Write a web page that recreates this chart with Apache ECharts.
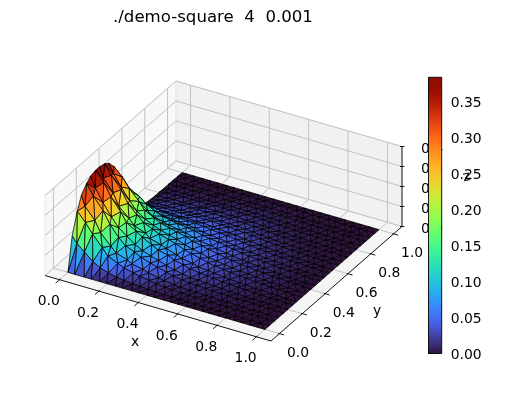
<!DOCTYPE html>
<html><head><meta charset="utf-8"><style>html,body{margin:0;padding:0;background:#fff}#c{width:514px;height:395px}</style>
<script src="https://cdn.jsdelivr.net/npm/echarts@6/dist/echarts.min.js"></script></head><body><div id="c"></div>
<script>
const titleText = './demo-square  4  0.001';
const xTicks = [0, 0.2, 0.4, 0.6, 0.8, 1.0];
const yTicks = [0, 0.2, 0.4, 0.6, 0.8, 1.0];
const zTicks = [0, 0.1, 0.2, 0.3, 0.4];
const barTicks = [0, 0.05, 0.1, 0.15, 0.2, 0.25, 0.3, 0.35];
const barMax = 0.3836;
const xNodesA = [0,.034,.083,.118,.162,.197,.243,.276,.324,.358,.405,.437,.484,.522,.558,.603,.637,.684,.716,.763,.797,.844,.878,.922,.956,1];
const xNodesB = [0,.024,.062,.105,.142,.184,.226,.264,.306,.346,.385,.426,.468,.508,.547,.588,.628,.667,.708,.748,.789,.829,.87,.91,.955,1];
const xNodesC = [0,.041,.077,.126,.155,.205,.236,.284,.317,.366,.398,.445,.477,.529,.566,.596,.645,.677,.724,.756,.805,.836,.886,.915,.963,1];
const xNodesD = [0,.018,.068,.097,.149,.176,.233,.255,.313,.339,.392,.418,.475,.5,.553,.581,.635,.66,.714,.741,.796,.822,.877,.903,.948,1];
const yNodes = [0,.037,.082,.118,.163,.198,.243,.277,.322,.358,.403,.438,.483,.518,.562,.597,.642,.678,.722,.758,.803,.838,.882,.918,.963,1];
const zRows = [
[0,0,0,0,0,0,0,0,0,0,0,0,0,0,0,0,0,0,0,0,0,0,0,0,0,0],
[.164,.134,.102,.066,.045,.032,.022,.016,.012,.010,.007,.006,.004,.003,.002,.002,.001,.001,.001,.001,.001,0,0,0,0,0],
[.265,.221,.174,.120,.085,.063,.048,.038,.029,.023,.016,.012,.009,.006,.005,.004,.003,.003,.002,.002,.001,.001,.001,0,0,0],
[.328,.277,.221,.168,.115,.088,.070,.056,.045,.036,.025,.019,.014,.009,.009,.007,.006,.005,.004,.003,.002,.002,.001,.001,.001,0],
[.363,.310,.251,.193,.140,.108,.090,.072,.058,.047,.035,.026,.020,.014,.013,.011,.008,.007,.006,.004,.003,.003,.002,.001,.001,0],
[.382,.330,.269,.209,.165,.135,.105,.085,.070,.059,.045,.035,.026,.019,.018,.015,.012,.010,.007,.006,.004,.003,.002,.002,.001,0],
[.390,.339,.278,.218,.173,.143,.123,.097,.081,.069,.054,.043,.034,.025,.024,.020,.015,.012,.010,.008,.006,.004,.003,.002,.001,0],
[.390,.340,.280,.220,.175,.145,.125,.104,.089,.077,.061,.050,.041,.031,.029,.023,.019,.015,.012,.010,.007,.006,.004,.003,.001,0],
[.382,.334,.276,.218,.174,.144,.125,.109,.096,.085,.068,.058,.048,.037,.031,.026,.021,.017,.014,.011,.008,.006,.004,.003,.001,0],
[.367,.321,.266,.210,.168,.140,.121,.107,.095,.085,.069,.059,.050,.040,.034,.028,.022,.018,.015,.011,.008,.007,.005,.003,.001,0],
[.328,.289,.241,.191,.154,.129,.113,.100,.091,.082,.068,.059,.051,.042,.034,.029,.023,.019,.015,.012,.009,.007,.005,.003,.001,0],
[.273,.243,.205,.165,.134,.113,.100,.091,.083,.077,.065,.056,.050,.042,.034,.029,.023,.019,.016,.012,.009,.007,.005,.003,.001,0],
[.203,.187,.162,.133,.111,.096,.088,.081,.075,.070,.059,.053,.048,.040,.034,.028,.022,.018,.015,.011,.008,.007,.005,.003,.001,0],
[.137,.132,.119,.101,.087,.077,.073,.068,.065,.062,.053,.048,.044,.038,.032,.026,.022,.017,.014,.011,.008,.007,.004,.003,.001,0],
[.078,.083,.080,.073,.065,.060,.059,.057,.055,.053,.047,.043,.040,.035,.030,.024,.020,.016,.013,.010,.008,.006,.004,.003,.001,0],
[.035,.046,.050,.049,.047,.046,.046,.046,.045,.045,.041,.037,.035,.032,.026,.022,.018,.014,.012,.009,.007,.005,.004,.002,.001,0],
[.016,.027,.033,.034,.034,.034,.035,.036,.036,.037,.033,.031,.030,.027,.023,.020,.015,.012,.010,.008,.006,.004,.003,.002,.001,0],
[.008,.017,.023,.024,.025,.025,.026,.028,.029,.029,.027,.026,.025,.023,.019,.016,.013,.010,.009,.007,.005,.004,.003,.002,.001,0],
[.004,.012,.017,.019,.020,.020,.021,.022,.023,.024,.022,.020,.021,.019,.016,.013,.011,.008,.007,.005,.004,.003,.002,.002,.001,0],
[.002,.008,.012,.013,.014,.014,.015,.016,.017,.018,.017,.016,.016,.015,.012,.011,.008,.007,.006,.005,.003,.002,.002,.001,.001,0],
[.002,.005,.008,.009,.009,.010,.010,.011,.013,.013,.013,.012,.013,.012,.010,.008,.006,.005,.004,.004,.002,.002,.002,.001,.001,0],
[.001,.004,.005,.006,.006,.006,.006,.007,.008,.009,.009,.009,.009,.009,.008,.007,.006,.005,.004,.003,.002,.002,.001,.001,0,0],
[.001,.002,.003,.003,.004,.004,.004,.004,.005,.006,.005,.006,.006,.006,.006,.005,.004,.003,.003,.002,.002,.001,.001,.001,0,0],
[.001,.001,.002,.002,.002,.002,.002,.003,.003,.003,.004,.003,.004,.004,.004,.003,.003,.002,.002,.001,.001,.001,.001,0,0,0],
[0,.001,.001,.001,.001,.001,.001,.001,.001,.002,.002,.002,.002,.002,.002,.002,.002,.001,.001,.001,.001,0,0,0,0,0],
[0,0,0,0,0,0,0,0,0,0,0,0,0,0,0,0,0,0,0,0,0,0,0,0,0,0]
];

// 3D view of the matplotlib box, expressed in the pixels of a hidden plane axis
const M = 0.0644, Z_TOP = 0.4;
const bc = v => M + v * (1 - 2 * M);
const boxToPlane = (bx, by, bz) => [45 + 226 * bx + 131 * by, 275.5 + 65.5 * bx - 114.5 * by - 80 * bz];
const project = (x, y, z) => boxToPlane(bc(x), bc(y), z / Z_TOP);
const depth = (x, y, z) => 0.433 * 1.19 * bc(x) - 0.75 * 1.19 * bc(y) + 0.5 * 0.893 * z / Z_TOP;

// turbo colormap: published anchors at the dark end, polynomial fit above it
const turboDark = [[0, 48, 18, 59], [0.03, 57, 42, 115], [0.0625, 65, 64, 165], [0.1, 72, 90, 215]];
function turbo(t) {
  t = Math.max(0, Math.min(1, t));
  if (t < 0.1) {
    let i = 0;
    while (t > turboDark[i + 1][0]) i++;
    const a = turboDark[i], b = turboDark[i + 1], f = (t - a[0]) / (b[0] - a[0]);
    return `rgb(${[1, 2, 3].map(n => Math.round(a[n] + (b[n] - a[n]) * f)).join(',')})`;
  }
  const p = c => c.reduceRight((a, k) => a * t + k, 0);
  const r = p([0.13572138, 4.6153926, -42.66032258, 132.13108234, -152.94239396, 59.28637943]);
  const g = p([0.09140261, 2.19418839, 4.84296658, -14.18503333, 4.27729857, 2.82956604]);
  const b = p([0.1066733, 12.64194608, -60.58204836, 110.36276771, -89.90310912, 27.34824973]);
  const h = v => Math.round(Math.max(0, Math.min(1, v)) * 255);
  return `rgb(${h(r)},${h(g)},${h(b)})`;
}

// triangles: zip neighbouring rows of nodes
const rowLists = [xNodesA, xNodesB, xNodesC, xNodesD];
const rowX = j => rowLists[j % 4];
const tris = [];
for (let j = 0; j + 1 < yNodes.length; j++) {
  const a = rowX(j), b = rowX(j + 1);
  let i = 0, k = 0;
  const P = (r, n, xs) => [xs[n], yNodes[r], zRows[r][n]];
  while (i < a.length - 1 || k < b.length - 1) {
    const advA = k >= b.length - 1 || (i < a.length - 1 && a[i + 1] <= b[k + 1]);
    if (advA) { tris.push([P(j, i, a), P(j, i + 1, a), P(j + 1, k, b)]); i++; }
    else { tris.push([P(j, i, a), P(j + 1, k + 1, b), P(j + 1, k, b)]); k++; }
  }
}
const triData = tris.map(t => {
  const avg = (t[0][2] + t[1][2] + t[2][2]) / 3;
  const d = (depth(...t[0]) + depth(...t[1]) + depth(...t[2])) / 3;
  return { d, value: [t[0][0], t[0][1], t[0][2], t[1][0], t[1][1], t[1][2], t[2][0], t[2][1], t[2][2], avg] };
}).sort((p, q) => p.d - q.d).map(o => o.value);

const GRID = '#c2c2c2';
const FS = '13.9px';
function line(api, a, b, color, w) {
  const p = api.coord(a), q = api.coord(b);
  return { type: 'line', shape: { x1: p[0], y1: p[1], x2: q[0], y2: q[1] }, style: { stroke: color, lineWidth: w, fill: null } };
}
function poly(api, pts, fill) {
  return { type: 'polygon', shape: { points: pts.map(p => api.coord(p)) }, style: { fill, stroke: '#e6e6e6', lineWidth: 0.8 } };
}
function text(s, p, api, o) {
  const c = api.coord(p);
  return { type: 'text', x: c[0], y: c[1], rotation: (o && o.rot) || 0, style: { text: s, fill: '#000', font: FS + ' "DejaVu Sans"', textAlign: (o && o.align) || 'center', textVerticalAlign: 'middle' } };
}
const add = (p, dx, dy) => [p[0] + dx, p[1] + dy];

function panes(params, api) {
  const ch = [];
  const B = boxToPlane;
  ch.push(poly(api, [B(0,0,0), B(0,1,0), B(0,1,1), B(0,0,1)], '#f8f8f8'));
  ch.push(poly(api, [B(0,1,0), B(1,1,0), B(1,1,1), B(0,1,1)], '#f1f1f1'));
  ch.push(poly(api, [B(0,0,0), B(1,0,0), B(1,1,0), B(0,1,0)], '#f5f5f5'));
  xTicks.forEach(v => { const t = bc(v);
    ch.push(line(api, B(t,0,0), B(t,1,0), GRID, 1));
    ch.push(line(api, B(t,1,0), B(t,1,1), GRID, 1)); });
  yTicks.forEach(v => { const t = bc(v);
    ch.push(line(api, B(1,t,0), B(0,t,0), GRID, 1));
    ch.push(line(api, B(0,t,0), B(0,t,1), GRID, 1)); });
  zTicks.forEach(v => { const t = v / Z_TOP;
    ch.push(line(api, B(0,0,t), B(0,1,t), GRID, 1));
    ch.push(line(api, B(0,1,t), B(1,1,t), GRID, 1)); });
  return { type: 'group', children: ch };
}
function triangle(params, api) {
  const pts = [0, 3, 6].map(o => api.coord(project(api.value(o), api.value(o + 1), api.value(o + 2))));
  return { type: 'polygon', shape: { points: pts }, style: { fill: turbo(api.value(9) / barMax), stroke: '#000', lineWidth: 0.75 } };
}
function axes(params, api) {
  const ch = [];
  const B = boxToPlane, K = '#000';
  ch.push(line(api, B(0,0,0), B(1,0,0), K, 0.9));
  ch.push(line(api, B(1,0,0), B(1,1,0), K, 0.9));
  ch.push(line(api, B(1,1,0), B(1,1,1), K, 0.9));
  xTicks.forEach(v => { const p = B(bc(v),0,0);
    ch.push(line(api, add(p,1,-0.9), add(p,-3.9,3.4), K, 0.9));
    ch.push(text(v.toFixed(1), add(p,-10.8,22), api)); });
  yTicks.forEach(v => { const p = B(1,bc(v),0);
    ch.push(line(api, add(p,-1.2,-0.4), add(p,4.6,1.3), K, 0.9));
    ch.push(text(v.toFixed(1), add(p,18.6,19.6), api)); });
  zTicks.forEach(v => { const p = B(1,1,v / Z_TOP);
    ch.push(line(api, add(p,-2,0), add(p,2.4,0), K, 0.9));
    ch.push(text(v.toFixed(1), add(p,19,2.5), api, { align: 'left' })); });
  ch.push(text('x', add(B(0.5,0,0),-23,34.5), api));
  ch.push(text('y', add(B(1,0.5,0),40.5,28), api));
  return { type: 'group', children: ch };
}
function colorBar(params, api) {
  const p = api.coord([0, barMax]), q = api.coord([1, 0]);
  const shape = { x: p[0], y: p[1], width: q[0] - p[0], height: q[1] - p[1] };
  const stops = [];
  for (let i = 0; i <= 64; i++) stops.push({ offset: i / 64, color: turbo(1 - i / 64) });
  return { type: 'group', children: [
    { type: 'rect', shape, style: { fill: new echarts.graphic.LinearGradient(0, 0, 0, 1, stops) } },
    { type: 'rect', shape, style: { fill: null, stroke: '#000', lineWidth: 0.9 } }
  ] };
}
function zLabel(params, api) {
  return { type: 'group', children: [text('z', add(boxToPlane(1, 1, 0.5), 64.5, -9.5), api, { rot: 0.2 })] };
}

const chart = echarts.init(document.getElementById('c'), null, { renderer: 'canvas' });
const hidden = { show: false };
chart.setOption({
  animation: false,
  backgroundColor: '#fff',
  title: { text: titleText, left: 113, top: 9, padding: 0, textStyle: { fontFamily: 'DejaVu Sans', fontSize: 16.6, fontWeight: 'normal', color: '#000' } },
  grid: [
    { left: 0, top: 0, width: 514, height: 395, containLabel: false },
    { left: 428.5, top: 77.3, width: 13.2, height: 276.2 }
  ],
  xAxis: [
    { type: 'value', min: 0, max: 514, ...hidden, gridIndex: 0 },
    { type: 'value', min: 0, max: 1, ...hidden, gridIndex: 1 }
  ],
  yAxis: [
    { type: 'value', min: 0, max: 395, inverse: true, ...hidden, gridIndex: 0 },
    { type: 'value', min: 0, max: barMax, gridIndex: 1, position: 'right', splitLine: { show: false },
      axisLine: { show: false },
      axisTick: { show: true, length: 3.5, customValues: barTicks, lineStyle: { color: '#000', width: 0.9 } },
      axisLabel: { show: true, customValues: barTicks, margin: 9, formatter: v => `{t|${v.toFixed(2)}}`,
        rich: { t: { padding: [4, 0, 0, 0], color: '#000', fontFamily: 'DejaVu Sans', fontSize: 13.9 } } } }
  ],
  series: [
    { type: 'custom', xAxisIndex: 0, yAxisIndex: 0, z: 1, silent: true, clip: false, data: [[0, 0]], renderItem: panes },
    { type: 'custom', xAxisIndex: 0, yAxisIndex: 0, z: 2, silent: true, clip: false, data: triData, renderItem: triangle, progressive: 0 },
    { type: 'custom', xAxisIndex: 0, yAxisIndex: 0, z: 3, silent: true, clip: false, data: [[0, 0]], renderItem: axes },
    { type: 'custom', xAxisIndex: 1, yAxisIndex: 1, z: 4, silent: true, clip: false, data: [[0, 0]], renderItem: colorBar },
    { type: 'custom', xAxisIndex: 0, yAxisIndex: 0, z: 20, silent: true, clip: false, data: [[0, 0]], renderItem: zLabel }
  ]
});
</script></body></html>
